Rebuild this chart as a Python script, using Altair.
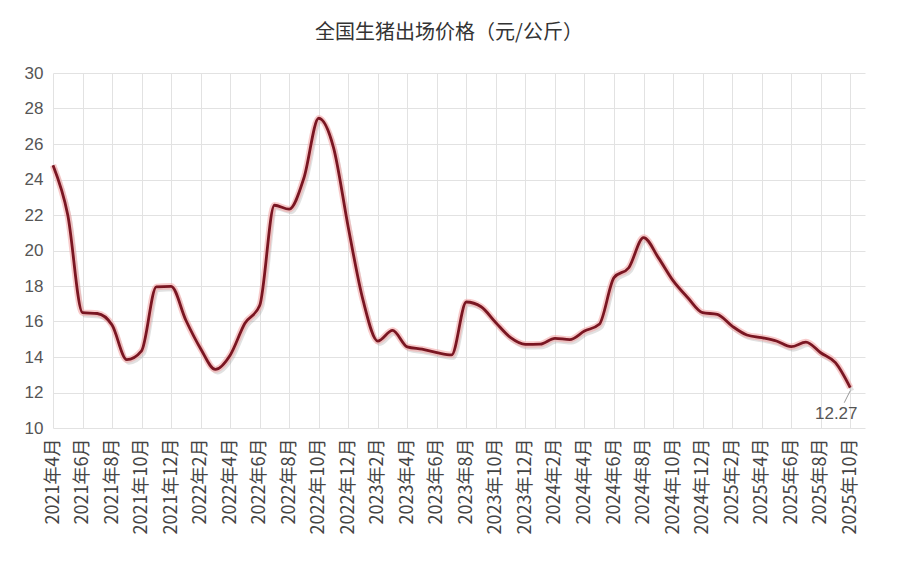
import altair as alt
import pandas as pd

# ---- data ----
months = [
    "2021年4月", "2021年5月", "2021年6月", "2021年7月", "2021年8月", "2021年9月",
    "2021年10月", "2021年11月", "2021年12月",
    "2022年1月", "2022年2月", "2022年3月", "2022年4月", "2022年5月", "2022年6月",
    "2022年7月", "2022年8月", "2022年9月", "2022年10月", "2022年11月", "2022年12月",
    "2023年1月", "2023年2月", "2023年3月", "2023年4月", "2023年5月", "2023年6月",
    "2023年7月", "2023年8月", "2023年9月", "2023年10月", "2023年11月", "2023年12月",
    "2024年1月", "2024年2月", "2024年3月", "2024年4月", "2024年5月", "2024年6月",
    "2024年7月", "2024年8月", "2024年9月", "2024年10月", "2024年11月", "2024年12月",
    "2025年1月", "2025年2月", "2025年3月", "2025年4月", "2025年5月", "2025年6月",
    "2025年7月", "2025年8月", "2025年9月", "2025年10月",
]
prices = [
    24.8, 22.0, 16.5, 16.45, 15.8, 13.85, 14.35, 17.95, 17.98,
    16.07, 14.47, 13.3, 14.1, 15.9, 16.9, 22.55, 22.33, 24.1, 27.45, 25.8, 21.3,
    17.2, 14.9, 15.5, 14.57, 14.44, 14.25, 14.12, 17.1, 16.83, 15.93, 15.09, 14.71,
    14.72, 15.05, 14.98, 15.46, 15.84, 18.47, 19.03, 20.73, 19.6, 18.3, 17.34, 16.5,
    16.4, 15.74, 15.24, 15.09, 14.9, 14.58, 14.84, 14.24, 13.68, 12.27,
]
y_ticks = list(range(10, 31, 2))
title_text = "全国生猪出场价格（元/公斤）"

df = pd.DataFrame({"idx": list(range(len(months))), "month": months, "price": prices})
last = df.tail(1)

x_ticks = list(range(0, len(months), 2))
label_array = "[" + ",".join("'" + m + "'" for m in months) + "]"
label_expr = label_array + "[datum.value]"

x_enc = alt.X(
    "idx:Q",
    scale=alt.Scale(domain=[0, len(months)], nice=False, zero=False),
    axis=alt.Axis(
        values=x_ticks,
        tickCount=len(x_ticks) + 5,
        labelExpr=label_expr,
        labelAngle=-90,
        labelFont="Noto Sans CJK SC",
        labelFontSize=18,
        labelColor="#444",
        labelPadding=10,
        labelOverlap=False,
        labelFlush=False,
        labelBound=False,
        title=None,
    ),
)
y_enc = alt.Y(
    "price:Q",
    scale=alt.Scale(domain=[10, 30], nice=False, zero=False),
    axis=alt.Axis(
        values=y_ticks,
        tickCount=len(y_ticks) + 5,
        labelFont="Liberation Sans",
        labelFontSize=17,
        labelColor="#555",
        labelPadding=10,
        labelOverlap=False,
        title=None,
    ),
)

base = alt.Chart(df).encode(x=x_enc, y=y_enc)

shadow = base.mark_line(
    interpolate="monotone", color="#888", strokeWidth=4, opacity=0.25, xOffset=2, yOffset=3
)
halo = base.mark_line(interpolate="monotone", color="#f3a9a9", strokeWidth=6.5, opacity=0.6)
main = base.mark_line(interpolate="monotone", color="#7a1622", strokeWidth=2.8)

leader = alt.Chart(last).mark_rule(
    color="#999", strokeWidth=1, x2Offset=-6, yOffset=3, y2Offset=15
).encode(x="idx:Q", y="price:Q", x2="idx:Q", y2="price:Q")

label = alt.Chart(last).mark_text(
    font="Liberation Sans", fontSize=17, color="#555", dx=-14, dy=26, align="center", baseline="middle"
).encode(x="idx:Q", y="price:Q", text=alt.Text("price:Q", format=".2f"))

chart = (
    alt.layer(shadow, halo, main, leader, label)
    .properties(
        width=812,
        height=355,
        padding={"left": 45, "top": 65, "right": 32, "bottom": 130},
        autosize=alt.AutoSizeParams(type="none"),
        title=alt.TitleParams(
            title_text,
            font="Noto Sans CJK SC",
            fontSize=20,
            fontWeight="normal",
            color="#333",
            anchor="middle",
            offset=21,
            dx=-10,
        ),
    )
    .configure_view(stroke=None)
    .configure_axis(grid=True, gridColor="#e2e2e2", gridWidth=1, domain=False, ticks=False)
)

chart.save("out.html", embed_options={"renderer": "svg", "actions": False})
